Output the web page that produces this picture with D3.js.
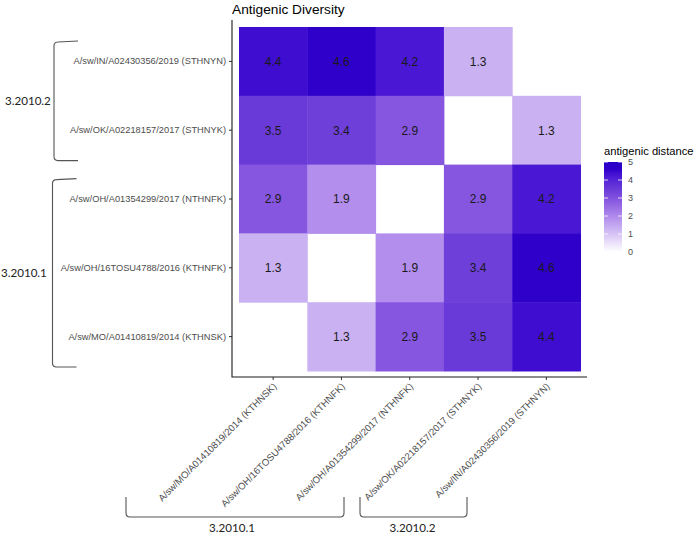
<!DOCTYPE html>
<html><head><meta charset="utf-8">
<script src="https://cdn.jsdelivr.net/npm/d3@7"></script>
<style>body{margin:0;background:#fff}svg{display:block}</style>
</head><body>
<svg id="c" width="696" height="535"></svg>
<script>
const xStrains = ["A/sw/MO/A01410819/2014 (KTHNSK)","A/sw/OH/16TOSU4788/2016 (KTHNFK)","A/sw/OH/A01354299/2017 (NTHNFK)","A/sw/OK/A02218157/2017 (STHNYK)","A/sw/IN/A02430356/2019 (STHNYN)"];
const yStrains = ["A/sw/IN/A02430356/2019 (STHNYN)","A/sw/OK/A02218157/2017 (STHNYK)","A/sw/OH/A01354299/2017 (NTHNFK)","A/sw/OH/16TOSU4788/2016 (KTHNFK)","A/sw/MO/A01410819/2014 (KTHNSK)"];
// rows follow yStrains, columns follow xStrains; null = diagonal (blank)
const distRows = [
  [4.4, 4.6, 4.2, 1.3, null],
  [3.5, 3.4, 2.9, null, 1.3],
  [2.9, 1.9, null, 2.9, 4.2],
  [1.3, null, 1.9, 3.4, 4.6],
  [null, 1.3, 2.9, 3.5, 4.4]
];
const legendTicks = [0,1,2,3,4,5];
const title = "Antigenic Diversity";
const legendTitle = "antigenic distance";
const yGroups = [{label:"3.2010.2", from:0, to:1},{label:"3.2010.1", from:2, to:4}];
const xGroups = [{label:"3.2010.1", from:0, to:2},{label:"3.2010.2", from:3, to:4}];

const svg = d3.select("#c");
const font = "'Liberation Sans', Arial, Helvetica, sans-serif";
const x = d3.scaleBand().domain(xStrains).range([239, 580.5]);
const y = d3.scaleBand().domain(yStrains).range([27, 371]);
const color = d3.scaleLinear()
  .domain([0, 1.3, 1.9, 2.9, 3.5, 4.2, 4.6, 5])
  .range(["#ffffff","#cab2f2","#b38eec","#8656e0","#6a3ad9","#4a18d4","#3000cb","#2800c8"])
  .interpolate(d3.interpolateLab).clamp(true);

const cells = [];
distRows.forEach((r,i)=>r.forEach((v,j)=>{ if(v!==null) cells.push({row:yStrains[i], col:xStrains[j], v}); }));

svg.append("g").selectAll("rect").data(cells).join("rect")
  .attr("x", d=>x(d.col)).attr("y", d=>y(d.row))
  .attr("width", x.bandwidth()+0.5).attr("height", y.bandwidth()+0.5)
  .attr("fill", d=>color(d.v));
svg.append("g").selectAll("text").data(cells).join("text")
  .attr("x", d=>x(d.col)+x.bandwidth()/2).attr("y", d=>y(d.row)+y.bandwidth()/2)
  .attr("dy","0.36em").attr("text-anchor","middle")
  .attr("font-family", font).attr("font-size", 12).attr("fill","#1a1a1a")
  .text(d=>d.v.toFixed(1));

// axes
const yAxis = svg.append("g").attr("transform","translate(232,0)")
  .call(d3.axisLeft(y).tickSize(3).tickPadding(3));
yAxis.select(".domain").remove();
yAxis.selectAll("line").attr("stroke","#333");
yAxis.selectAll("text").attr("font-family",font).attr("font-size",9.3).attr("fill","#4d4d4d");

const xAxis = svg.append("g").attr("transform","translate(0,377)")
  .call(d3.axisBottom(x).tickSize(3));
xAxis.select(".domain").remove();
xAxis.selectAll("line").attr("stroke","#333");
xAxis.selectAll("text")
  .attr("font-family",font).attr("font-size",9.6).attr("fill","#4d4d4d")
  .attr("text-anchor","end").attr("x",0).attr("y",0).attr("dy",null)
  .attr("transform","translate(4,10) rotate(-45)");

svg.append("path").attr("d","M232,20V377H587").attr("fill","none").attr("stroke","#1a1a1a").attr("stroke-width",1.1);

// title
svg.append("text").attr("x",232).attr("y",14).attr("font-family",font).attr("font-size",13.7).attr("fill","#000").text(title);

// legend
const lg = svg.append("g");
const ly = d3.scaleLinear().domain([0,5]).range([252,162]);
const grad = svg.append("defs").append("linearGradient").attr("id","lgGrad").attr("x1",0).attr("x2",0).attr("y1",1).attr("y2",0);
d3.range(0,5.01,0.1).forEach(v=>grad.append("stop").attr("offset", v/5).attr("stop-color", color(v)));
lg.append("text").attr("x",604).attr("y",155).attr("font-family",font).attr("font-size",11.2).attr("fill","#000").text(legendTitle);
lg.append("rect").attr("x",604).attr("y",ly(5)).attr("width",18).attr("height",ly(0)-ly(5)).attr("fill","url(#lgGrad)");
legendTicks.forEach(t=>{
  lg.append("line").attr("x1",604).attr("x2",608).attr("y1",ly(t)).attr("y2",ly(t)).attr("stroke","#fff").attr("stroke-width",0.8);
  lg.append("line").attr("x1",618).attr("x2",622).attr("y1",ly(t)).attr("y2",ly(t)).attr("stroke","#fff").attr("stroke-width",0.8);
  lg.append("text").attr("x",628).attr("y",ly(t)).attr("dy","0.36em").attr("font-family",font).attr("font-size",9).attr("fill","#4d4d4d").text(t);
});

// group brackets
const bFont = "Lato, 'Open Sans', sans-serif";
const bStroke = "#555";
yGroups.forEach((g,i)=>{
  const y0 = y(yStrains[g.from]) + 15, y1 = y(yStrains[g.to]) + y.bandwidth() - 4;
  const bx = i===0 ? 54 : 52.5, ex = bx + 24;
  svg.append("path").attr("d",`M${ex},${y0-1}L${bx+4},${y0}Q${bx},${y0} ${bx},${y0+4}L${bx},${y1-4}Q${bx},${y1} ${bx+4},${y1}L${ex},${y1}`)
    .attr("fill","none").attr("stroke",bStroke).attr("stroke-width",1.1);
  svg.append("text").attr("x", i===0 ? 5 : 1).attr("y",(y0+y1)/2+4).attr("text-anchor","start")
    .attr("font-family",bFont).attr("font-size",11.6).attr("fill","#222").text(g.label);
});
xGroups.forEach((g,i)=>{
  const xa = i===0 ? 126 : 360, xb = i===0 ? 344 : 467;
  const top = 497, bot = 517;
  svg.append("path").attr("d",`M${xa},${top}L${xa},${bot-4}Q${xa},${bot} ${xa+4},${bot}L${xb-4},${bot}Q${xb},${bot} ${xb},${bot-4}L${xb},${top}`)
    .attr("fill","none").attr("stroke",bStroke).attr("stroke-width",1.1);
  svg.append("text").attr("x",(xa+xb)/2+(i===0?-3:-1)).attr("y",531.5).attr("text-anchor","middle")
    .attr("font-family",bFont).attr("font-size",11.6).attr("fill","#222").text(g.label);
});
</script>
</body></html>
